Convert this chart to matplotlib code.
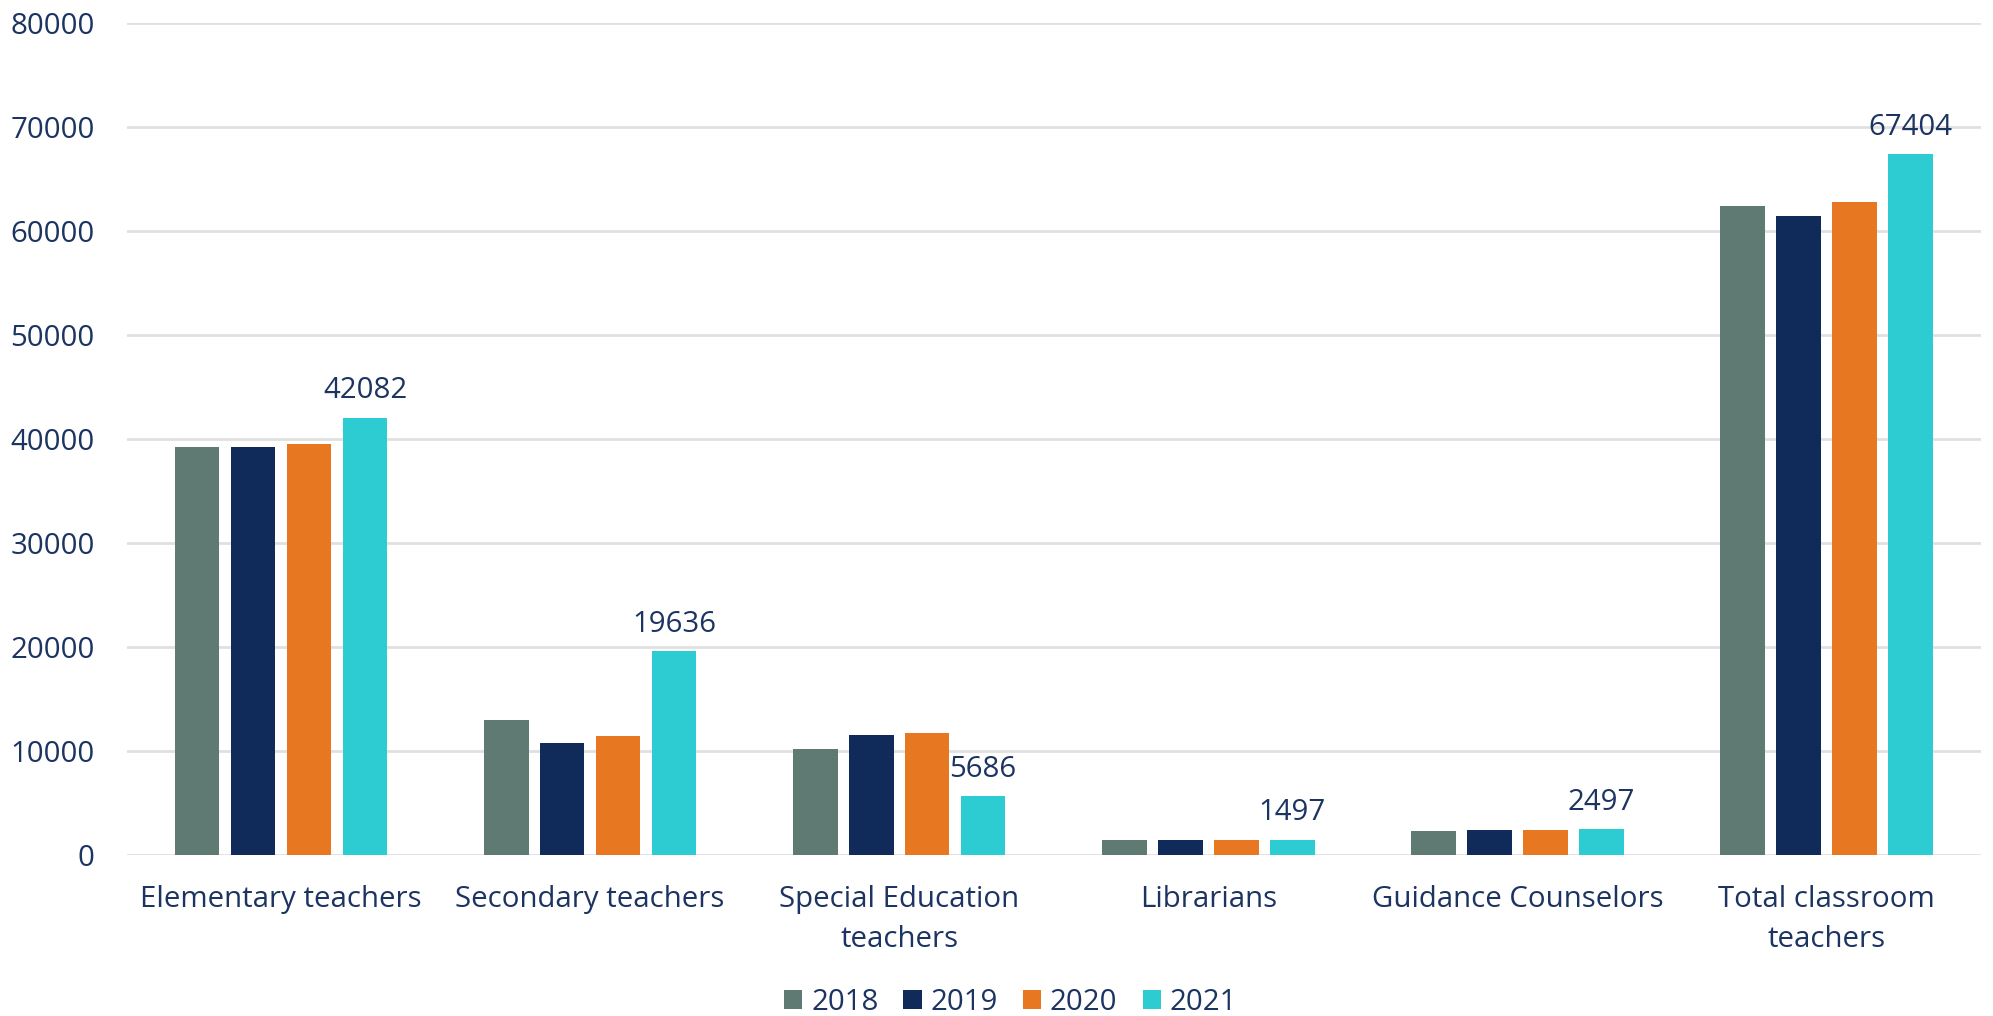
import matplotlib.pyplot as plt
import numpy as np
from matplotlib.patches import Patch

plt.rcParams['font.family'] = ['Open Sans', 'DejaVu Sans']

# DATA
categories = ['Elementary teachers', 'Secondary teachers', 'Special Education\nteachers',
              'Librarians', 'Guidance Counselors', 'Total classroom\nteachers']
years = ['2018', '2019', '2020', '2021']
v2018 = [39300, 13000, 10220, 1500, 2370, 62450]
v2019 = [39260, 10800, 11570, 1500, 2430, 61520]
v2020 = [39580, 11500, 11800, 1480, 2490, 62830]
v2021 = [42082, 19636, 5686, 1497, 2497, 67404]
series = [v2018, v2019, v2020, v2021]
colors = ['#5f7a73', '#102b59', '#e87722', '#2dcbd2']
text_color = '#1c3461'
fs = 21.2

fig = plt.figure(figsize=(19.93, 10.16), dpi=100)
ax = fig.add_axes([0.0635, 0.158, 0.9305, 0.819])

x = np.arange(len(categories))
step = 0.181
width = 0.144
for i, vals in enumerate(series):
    ax.bar(x + (i - 1.5) * step, vals, width, color=colors[i], zorder=3)

# labels on 2021 bars only
for xi, v in zip(x, v2021):
    ax.annotate(str(v), (xi + 1.5 * step, v), xytext=(0, 9), textcoords='offset points',
                ha='center', va='bottom', fontsize=fs, color=text_color)

ax.set_xlim(-0.5, len(categories) - 0.5)
ax.set_ylim(0, 80000)
ax.set_yticks(np.arange(0, 80001, 10000))
ax.grid(axis='y', color='#e0e0e0', linewidth=2, zorder=0)
for s in ax.spines.values():
    s.set_visible(False)
ax.set_xticks(x)
ax.set_xticklabels(categories, linespacing=1.5)
ax.tick_params(axis='both', length=0, labelsize=fs, labelcolor=text_color)
ax.tick_params(axis='y', pad=23)
ax.tick_params(axis='x', pad=21)

handles = [Patch(facecolor=c, edgecolor='none', label=y) for c, y in zip(colors, years)]
fig.legend(handles=handles, loc='center', bbox_to_anchor=(0.507, 0.013), ncol=4,
           frameon=False, fontsize=fs, handlelength=0.62, handleheight=0.62,
           handletextpad=0.3, columnspacing=0.85, labelcolor=text_color)

fig.savefig('out.png', dpi=100)
